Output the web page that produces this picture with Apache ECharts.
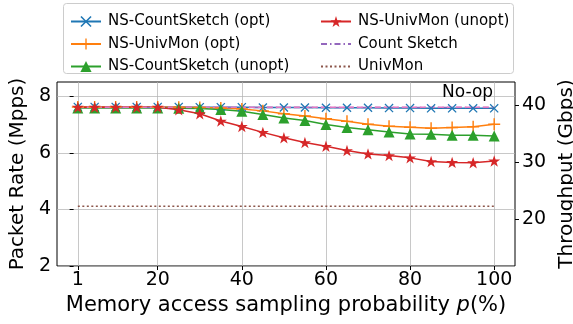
<!DOCTYPE html>
<html><head><meta charset="utf-8">
<script src="https://cdn.jsdelivr.net/npm/echarts@6/dist/echarts.min.js"></script>
<style>html,body{margin:0;padding:0;background:#fff}#c{width:573px;height:324px}</style>
</head><body><div id="c"></div>
<script>
const xValues = [1,5,10,15,20,25,30,35,40,45,50,55,60,65,70,75,80,85,90,95,100];
const nsCountSketchOpt = [7.62,7.62,7.62,7.62,7.62,7.62,7.61,7.61,7.61,7.60,7.60,7.60,7.59,7.59,7.59,7.58,7.58,7.57,7.57,7.57,7.57];
const nsUnivMonOpt = [7.62,7.62,7.62,7.62,7.62,7.61,7.60,7.58,7.55,7.48,7.38,7.30,7.20,7.11,7.01,6.94,6.90,6.87,6.89,6.92,7.01];
const nsCountSketchUnopt = [7.58,7.58,7.58,7.58,7.58,7.57,7.56,7.53,7.47,7.35,7.23,7.14,7.00,6.89,6.81,6.73,6.66,6.65,6.62,6.62,6.59];
const nsUnivMonUnopt = [7.61,7.61,7.61,7.61,7.61,7.52,7.38,7.12,6.93,6.72,6.53,6.36,6.23,6.08,5.96,5.90,5.82,5.69,5.66,5.65,5.71];
const countSketch = [7.60,7.60,7.60,7.60,7.60,7.60,7.60,7.60,7.60,7.60,7.60,7.60,7.60,7.60,7.60,7.60,7.60,7.60,7.60,7.60,7.60];
const noOp = [7.61,7.61,7.61,7.61,7.61,7.61,7.61,7.61,7.61,7.61,7.61,7.61,7.61,7.61,7.61,7.61,7.61,7.61,7.61,7.61,7.61];
const univMon = [4.11,4.11,4.11,4.11,4.11,4.11,4.11,4.11,4.11,4.11,4.11,4.11,4.11,4.11,4.11,4.11,4.11,4.11,4.11,4.11,4.11];
const xTicks = [1,20,40,60,80,100];
const leftTicks = [2,4,6,8];
const rightTicks = [20,30,40];

const pair = arr => arr.map((v,i)=>[xValues[i], v]);
const FONT = 'DejaVu Sans';
const X_SYM = 'path://M0,1 L1,0 L5,4 L9,0 L10,1 L6,5 L10,9 L9,10 L5,6 L1,10 L0,9 L4,5 Z';
const PLUS_SYM = 'path://M4.4,0 H5.6 V4.4 H10 V5.6 H5.6 V10 H4.4 V5.6 H0 V4.4 H4.4 Z';
const STAR_SYM = 'path://M50,0 L61.2,34.5 L97.6,34.5 L68.2,55.9 L79.4,90.5 L50,69.1 L20.6,90.5 L31.8,55.9 L2.4,34.5 L38.8,34.5 Z';

function lineSeries(name, data, color, symbol, size, extra) {
  return Object.assign({
    name, type: 'line', data: pair(data), symbol, symbolSize: size, symbolKeepAspect: true,
    showAllSymbol: true, lineStyle: {color, width: 1.5}, itemStyle: {color},
    emphasis: {disabled: true}, animation: false
  }, extra || {});
}

const legendText = {fontSize: 15, fontFamily: FONT, color: '#000', padding: [0,0,0,2], lineHeight: 14};
const chart = echarts.init(document.getElementById('c'));
chart.setOption({
  animation: false,
  textStyle: {fontFamily: FONT},
  grid: {left: 57, top: 82, width: 458, height: 184, outerBoundsMode: 'none', containLabel: false,
         show: true, borderColor: '#000', borderWidth: 1, backgroundColor: 'transparent'},
  xAxis: {
    type: 'value', min: -3.95, max: 104.95,
    axisLine: {show: false},
    axisTick: {show: true, length: 4, customValues: xTicks, lineStyle: {color: '#000'}},
    axisLabel: {customValues: xTicks, color: '#000', fontSize: 19, fontFamily: FONT, margin: 5},
    splitLine: {show: true, lineStyle: {color: '#b0b0b0', width: 1, opacity: 0.7}},
    name: '{n|Memory access sampling probability }{i|p}{n|(%)}',
    nameLocation: 'middle', nameGap: 19,
    nameTextStyle: {rich: {n: {fontSize: 21, fontFamily: FONT, color: '#000'}, i: {fontSize: 21, fontFamily: FONT, fontStyle: 'italic', color: '#000'}}}
  },
  yAxis: [{
    type: 'value', min: 2, max: 8.5,
    axisLine: {show: false},
    axisTick: {show: true, length: 4, customValues: leftTicks, lineStyle: {color: '#000'}},
    axisLabel: {customValues: leftTicks, color: '#000', fontSize: 19, fontFamily: FONT, margin: 6},
    splitLine: {show: true, lineStyle: {color: '#b0b0b0', width: 1, opacity: 0.7}},
    name: 'Packet Rate (Mpps)', nameLocation: 'middle', nameGap: 23,
    nameTextStyle: {fontSize: 20, fontFamily: FONT, color: '#000'}
  }, {
    type: 'value', position: 'right', min: 11.83, max: 44.08,
    axisLine: {show: false},
    axisTick: {show: true, length: 4, customValues: rightTicks, lineStyle: {color: '#000'}},
    axisLabel: {customValues: rightTicks, color: '#000', fontSize: 19, fontFamily: FONT, margin: 7},
    splitLine: {show: false},
    name: 'Throughput (Gbps)', nameLocation: 'middle', nameGap: 34, nameRotate: 90,
    nameTextStyle: {fontSize: 20, fontFamily: FONT, color: '#000'}
  }],
  legend: [{
    orient: 'vertical', left: 65, top: 9, itemWidth: 30, itemHeight: 14, itemGap: 7.5,
    data: ['NS-CountSketch (opt)', 'NS-UnivMon (opt)', 'NS-CountSketch (unopt)'],
    textStyle: legendText, selectedMode: false
  }, {
    orient: 'vertical', left: 315, top: 9, itemWidth: 30, itemHeight: 14, itemGap: 7.5,
    data: ['NS-UnivMon (unopt)', {name: 'Count Sketch', itemStyle: {opacity: 0}}, {name: 'UnivMon', itemStyle: {opacity: 0}}],
    textStyle: legendText, selectedMode: false
  }],
  graphic: [{
    type: 'rect', left: 63, top: 3, z: -1,
    shape: {width: 450, height: 70, r: 3},
    style: {fill: 'rgba(255,255,255,0.8)', stroke: '#cccccc', lineWidth: 1}
  }, {
    type: 'text', left: 442, top: 84, z: 10,
    style: {text: 'No-op', fontSize: 17, fontFamily: FONT, fill: '#000'}
  }],
  series: [
    lineSeries('NS-CountSketch (opt)', nsCountSketchOpt, '#1f77b4', X_SYM, 9),
    lineSeries('NS-UnivMon (opt)', nsUnivMonOpt, '#ff7f0e', PLUS_SYM, 12),
    lineSeries('NS-CountSketch (unopt)', nsCountSketchUnopt, '#2ca02c', 'triangle', 11),
    lineSeries('NS-UnivMon (unopt)', nsUnivMonUnopt, '#d62728', STAR_SYM, 12),
    lineSeries('Count Sketch', countSketch, '#9467bd', 'none', 0, {lineStyle: {color: '#9467bd', width: 1.5, type: [6,3,1.5,3]}}),
    lineSeries('No-op', noOp, '#e377c2', 'none', 0, {lineStyle: {color: '#e377c2', width: 1.5, type: [6,3]}}),
    lineSeries('UnivMon', univMon, '#8c564b', 'none', 0, {lineStyle: {color: '#8c564b', width: 1.5, type: [2,2.5]}})
  ]
});
</script>
</body></html>
